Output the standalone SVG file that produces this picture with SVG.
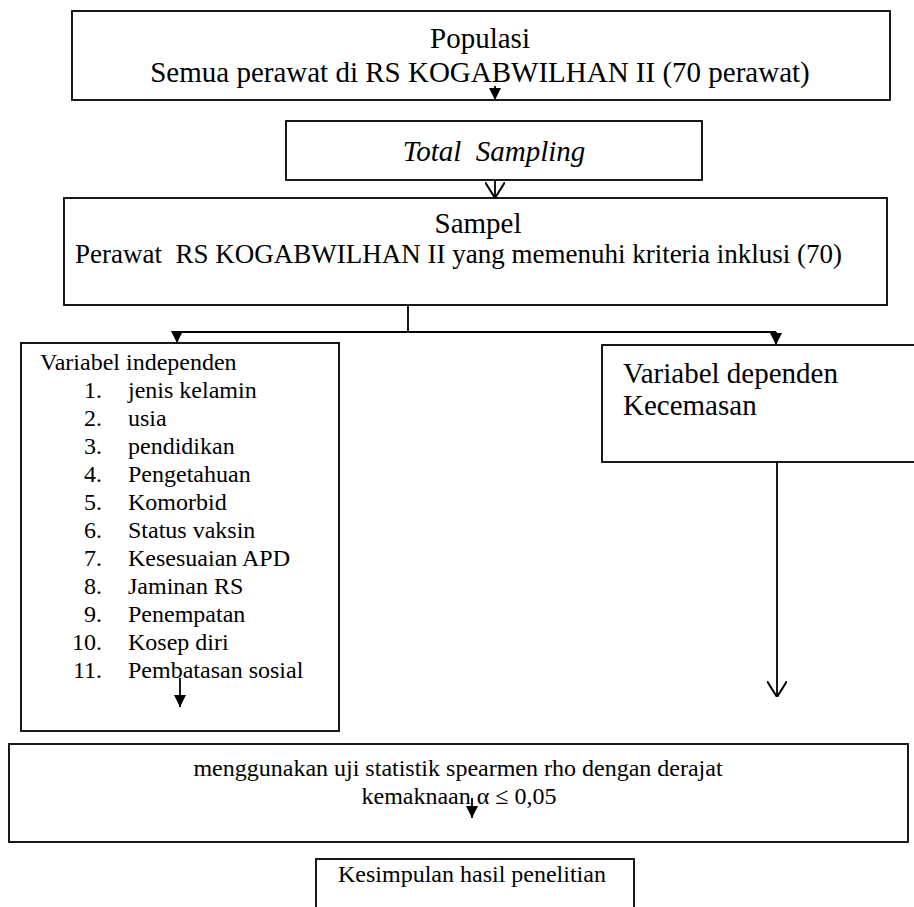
<svg xmlns="http://www.w3.org/2000/svg" width="914" height="907" viewBox="0 0 914 907">
<style>
.b{fill:#fff;stroke:#000;stroke-width:1.8}
.t{font-family:"Liberation Serif","DejaVu Serif","Times New Roman",serif;fill:#000}
.c{stroke:#000;stroke-width:1.8;fill:none}
.L{font-size:29px}
.M{font-size:24px}
.S{font-size:24px}
</style>
<defs>
<marker id="fa" viewBox="0 0 12 12" refX="12" refY="6" markerWidth="12" markerHeight="12" markerUnits="userSpaceOnUse" orient="auto"><path d="M0,0 L12,6 L0,12 z" fill="#000"/></marker>
<marker id="oa" viewBox="0 0 16 20" refX="16" refY="10" markerWidth="16" markerHeight="20" markerUnits="userSpaceOnUse" orient="auto"><path d="M0,0 L16,10 L0,20" fill="none" stroke="#000" stroke-width="2"/></marker>
</defs>
<rect width="914" height="907" fill="#fff"/>
<g id="populasi">
<rect class="b" x="72" y="11" width="818" height="89"/>
<text class="t L" x="480" y="48" text-anchor="middle">Populasi</text>
<text class="t L" x="480" y="82" text-anchor="middle">Semua perawat di RS KOGABWILHAN II (70 perawat)</text>
</g>
<g id="total-sampling">
<rect class="b" x="286" y="121" width="416" height="59"/>
<text class="t L" x="494" y="161" text-anchor="middle" font-style="italic" xml:space="preserve">Total  Sampling</text>
</g>
<g id="sampel">
<rect class="b" x="64" y="198" width="823" height="107"/>
<text class="t L" x="478" y="233" text-anchor="middle">Sampel</text>
<text class="t" x="75" y="263" font-size="27" xml:space="preserve">Perawat  RS KOGABWILHAN II yang memenuhi kriteria inklusi (70)</text>
</g>
<g id="variabel-independen">
<rect class="b" x="21" y="343" width="318" height="388"/>
<text class="t M" x="40" y="370">Variabel independen</text>
<g class="t M" text-anchor="end">
<text x="102" y="398">1.</text><text x="102" y="426">2.</text><text x="102" y="454">3.</text><text x="102" y="482">4.</text><text x="102" y="510">5.</text><text x="102" y="538">6.</text><text x="102" y="566">7.</text><text x="102" y="594">8.</text><text x="102" y="622">9.</text><text x="102" y="650">10.</text><text x="102" y="678">11.</text>
</g>
<g class="t M">
<text x="128" y="398">jenis kelamin</text><text x="128" y="426">usia</text><text x="128" y="454">pendidikan</text><text x="128" y="482">Pengetahuan</text><text x="128" y="510">Komorbid</text><text x="128" y="538">Status vaksin</text><text x="128" y="566">Kesesuaian APD</text><text x="128" y="594">Jaminan RS</text><text x="128" y="622">Penempatan</text><text x="128" y="650">Kosep diri</text><text x="128" y="678">Pembatasan sosial</text>
</g>
</g>
<g id="variabel-dependen">
<rect class="b" x="602" y="345" width="320" height="117"/>
<text class="t L" x="623" y="383">Variabel dependen</text>
<text class="t L" x="623" y="415">Kecemasan</text>
</g>
<g id="uji-statistik">
<rect class="b" x="9" y="744" width="899" height="98"/>
<text class="t S" x="458" y="776" text-anchor="middle">menggunakan uji statistik spearmen rho dengan derajat</text>
<text class="t S" x="459" y="804" text-anchor="middle">kemaknaan α ≤ 0,05</text>
</g>
<g id="kesimpulan">
<rect class="b" x="316" y="859" width="318" height="60"/>
<text class="t S" x="338" y="882">Kesimpulan hasil penelitian</text>
</g>
<g id="connectors">
<path class="c" d="M495,86 V100" marker-end="url(#fa)"/>
<path class="c" d="M495,180 V198" marker-end="url(#oa)"/>
<path class="c" d="M408,305 V332 M177,332 H776"/>
<path class="c" d="M177,332 V343" marker-end="url(#fa)"/>
<path class="c" d="M776,332 V345" marker-end="url(#fa)"/>
<path class="c" d="M180,678 V707" marker-end="url(#fa)"/>
<path class="c" d="M777,462 V697" marker-end="url(#oa)"/>
<path class="c" d="M472,798 V818" marker-end="url(#fa)"/>
</g>
</svg>
